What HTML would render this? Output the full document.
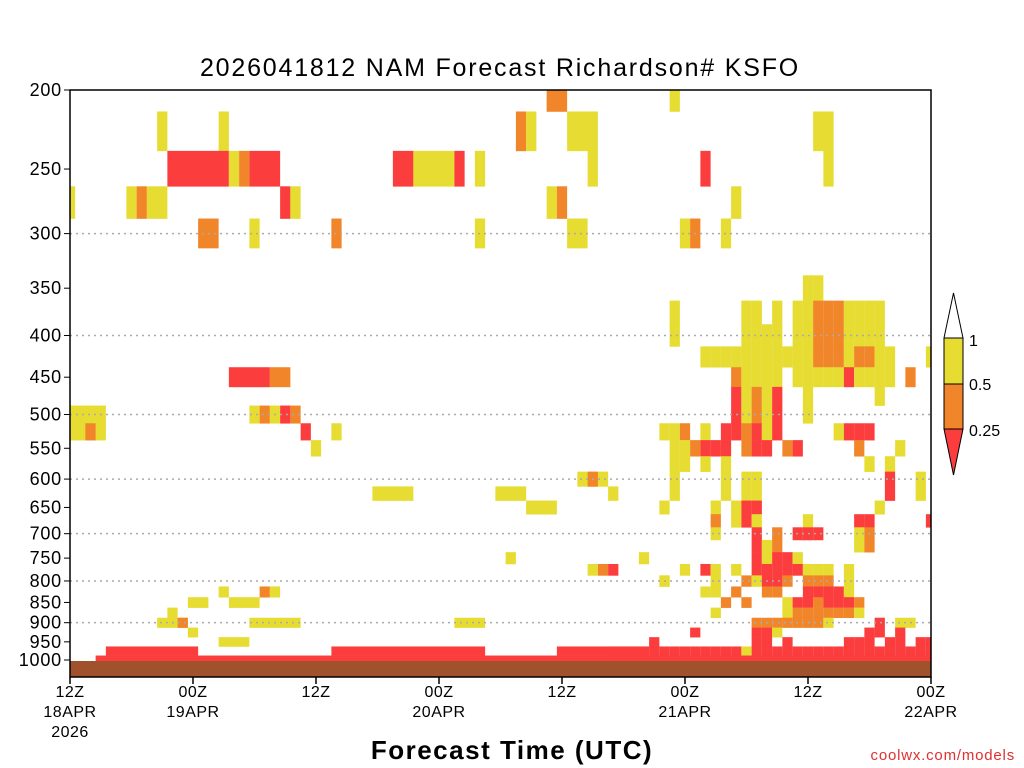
<!DOCTYPE html>
<html><head><meta charset="utf-8"><style>
body{margin:0;background:#fff;}
svg{display:block;font-family:"Liberation Sans",sans-serif;}
</style></head><body>
<svg id="chart" width="1024" height="768" viewBox="0 0 1024 768">
<rect x="0" y="0" width="1024" height="768" fill="#fff"/>
<text x="500" y="76" text-anchor="middle" font-size="25" letter-spacing="1.8" fill="#000">2026041812 NAM Forecast Richardson# KSFO</text>
<g id="cells"></g>
<rect x="70" y="661" width="861" height="16" fill="#a0522d"/>
<g id="grid"></g>
<rect x="70" y="90" width="861" height="587" fill="none" stroke="#000" stroke-width="1.5"/>
<g id="yaxis"></g>
<g id="xaxis"></g>
<text x="512" y="759" text-anchor="middle" font-size="26" font-weight="bold" letter-spacing="1.5" fill="#000">Forecast Time (UTC)</text>
<text x="1015" y="760" text-anchor="end" font-size="15" fill="#e03030" letter-spacing="0.8">coolwx.com/models</text>
<g>
<polygon points="944,338 953.5,293 963,338" fill="#fff" stroke="#000" stroke-width="1"/>
<rect x="944" y="338" width="19" height="46" fill="#e6dc32" stroke="#000" stroke-width="1"/>
<rect x="944" y="384" width="19" height="45" fill="#f0852a" stroke="#000" stroke-width="1"/>
<polygon points="944,429 963,429 953.5,475" fill="#fc3d3d" stroke="#000" stroke-width="1"/>
<text x="969" y="346" font-size="16">1</text>
<text x="969" y="390" font-size="16">0.5</text>
<text x="969" y="436" font-size="16">0.25</text>
</g>
</svg>
<script>
const yTicks=[200,250,300,350,400,450,500,550,600,650,700,750,800,850,900,950,1000];
const gridLevels=[300,400,500,600,700,800,900];
const xTickHours=[0,12,24,36,48,60,72,84];
const xTickLabels=["12Z","00Z","12Z","00Z","12Z","00Z","12Z","00Z"];
const xDateLabels=["18APR","19APR","","20APR","","21APR","","22APR"];
const xYearLabels=["2026","","","","","","",""];
const runLevel=[200,200,225,225,225,225,225,225,250,250,250,250,250,250,250,250,250,250,250,275,275,275,275,275,275,275,275,275,300,300,300,300,300,300,300,300,450,450,500,500,500,500,500,500,525,525,525,525,550,625,625,650,600,600,625,750,750,775,775,775,800,825,825,825,850,850,875,900,900,900,925,950,900,975,975,975,975,1000];
const runStart=[47,59,9,15,44,45,49,73,10,16,17,18,32,34,38,40,51,62,74,0,6,7,8,21,22,47,48,65,13,18,26,40,49,60,61,64,16,20,18,19,20,21,22,0,0,2,23,26,24,30,42,45,50,51,53,43,56,51,52,53,58,15,19,20,12,16,10,9,11,18,12,15,38,4,26,48,53,3];
const runEnd=[48,59,9,15,44,45,51,74,15,16,17,20,33,37,38,40,51,62,74,0,6,7,9,21,22,47,48,65,14,18,26,40,50,60,61,64,19,21,18,19,20,21,22,3,3,2,23,26,24,33,44,47,52,51,53,43,56,51,52,53,58,15,19,20,13,18,10,11,11,22,12,17,40,12,40,56,56,84];
const runCat=["o","y","y","y","o","y","y","y","r","y","o","r","r","y","r","y","y","r","y","y","y","o","y","r","y","y","o","y","o","y","o","y","y","y","o","y","r","o","y","o","y","r","o","y","y","o","r","y","y","y","y","y","y","o","y","y","y","y","o","r","y","y","o","y","y","y","y","y","o","y","y","y","y","r","r","r","r","r"];
const gridStartHour=57;
const gridLevelsR=[350,375,400,425,450,475,500,525,550,575,600,625,650,675,700,725,750,775,800,825,850,875,900,925,950,975,1000];
const gridRows=[
"...............yy",
"..y......yy.y.yyoooyyyy",
"..y......yyyy.yyoooyyyy",
".....yyyyyyyyyyyoooyooyy...y",
"........oyyyy.yyyyyryyyy.o",
"........ryoyr..y......y",
"........ryoyr..y",
".yyo.y.rroryr.....yrrr",
"..yyorrr.orr.or.....o...y",
"..yy.y.y.............y.y",
"..y....y.yy............r..y",
"..y....y.yy............r..y",
".y....y.yrr...........y",
"......o.yry....y....rr.....r",
"......y...r.o.rrr...yo",
"..........ryo.......yo",
"..........ryrry",
"...y.ry.y.rrrrryyy.y",
".y....y..oyrro.ooo.y",
".....yy.o..oo..rrrry",
".......o.o...yrrorrro",
"......y......yooooooy",
"..........oooooooy....r.yy",
"....r.....rry........rr.r",
"r.........rr.r.....rrr.rr.rr",
"rrrrrrrrryrrrrrrrrrrrrrrrrrr",
"rrrrrrrrrrrrrrrrrrrrrrrrrrrr"];
const colors={r:"#fc3d3d",o:"#f0852a",y:"#e6dc32"};
const NS="http://www.w3.org/2000/svg";
function yP(p){return 90+Math.log(p/200)/Math.log(5)*570;}
function xH(h){return 70+h*(861/84);}
function cellTop(p){return Math.max(90,yP(p-12.5));}
function cellBot(p){return Math.min(661,yP(p+12.5));}
const cells=document.getElementById('cells');
function addCell(h0,h1,p,c){
  const x0=Math.max(70,xH(h0-0.5)),x1=Math.min(931,xH(h1+0.5));
  const r=document.createElementNS(NS,'rect');
  r.setAttribute('x',x0);r.setAttribute('y',cellTop(p));
  r.setAttribute('width',x1-x0);r.setAttribute('height',cellBot(p)-cellTop(p)+0.3);
  r.setAttribute('fill',colors[c]);
  
  
  cells.appendChild(r);
}
for(let i=0;i<runLevel.length;i++)addCell(runStart[i],runEnd[i],runLevel[i],runCat[i]);
for(let j=0;j<gridLevelsR.length;j++){
  const s=gridRows[j];
  for(let k=0;k<s.length;k++){const c=s[k];if(c!=='.')addCell(gridStartHour+k,gridStartHour+k,gridLevelsR[j],c);}
}
const grid=document.getElementById('grid');
gridLevels.forEach(p=>{
  const l=document.createElementNS(NS,'line');
  l.setAttribute('x1',70);l.setAttribute('x2',931);l.setAttribute('y1',yP(p));l.setAttribute('y2',yP(p));
  l.setAttribute('stroke','#aaa');l.setAttribute('stroke-dasharray','2,4');l.setAttribute('stroke-width','1.5');
  
  
  grid.appendChild(l);
});
const ya=document.getElementById('yaxis');
yTicks.forEach(p=>{
  const t=document.createElementNS(NS,'text');
  t.setAttribute('x',62);t.setAttribute('y',yP(p)+6);t.setAttribute('text-anchor','end');t.setAttribute('font-size','18');t.setAttribute('letter-spacing','0.8');
  t.textContent=p;
  
  
  ya.appendChild(t);
  const l=document.createElementNS(NS,'line');
  l.setAttribute('x1',64);l.setAttribute('x2',70);l.setAttribute('y1',yP(p));l.setAttribute('y2',yP(p));l.setAttribute('stroke','#000');
  
  
  ya.appendChild(l);
});
const xa=document.getElementById('xaxis');
xTickHours.forEach((h,i)=>{
  const x=xH(h);
  const l=document.createElementNS(NS,'line');
  l.setAttribute('x1',x);l.setAttribute('x2',x);l.setAttribute('y1',677);l.setAttribute('y2',684);l.setAttribute('stroke','#000');l.setAttribute('stroke-width','1.5');
  
  
  xa.appendChild(l);
  [[xTickLabels[i],697],[xDateLabels[i],717],[xYearLabels[i],737]].forEach(([s,y])=>{
    if(!s)return;
    const t=document.createElementNS(NS,'text');
    t.setAttribute('x',x);t.setAttribute('y',y);t.setAttribute('text-anchor','middle');t.setAttribute('font-size','16');t.setAttribute('letter-spacing','0.5');
    t.textContent=s;
    
    
    xa.appendChild(t);
  });
});
</script>
</body></html>
